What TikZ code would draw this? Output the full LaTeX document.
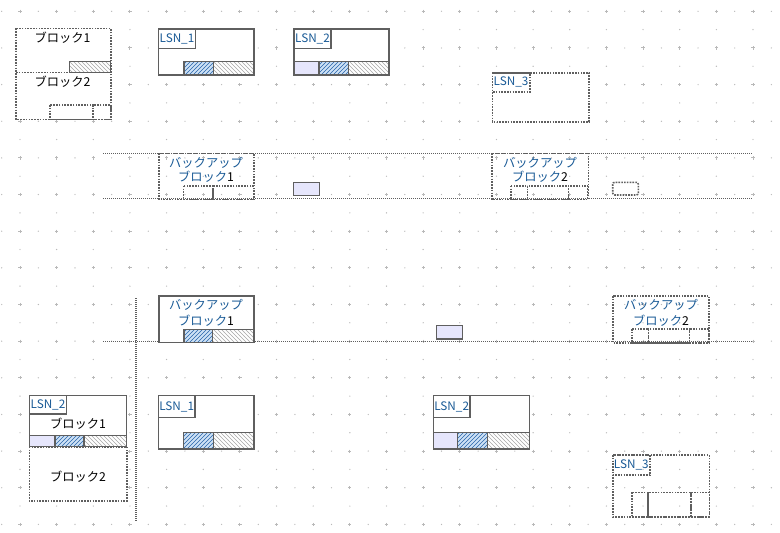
\documentclass[tikz,border=0pt]{standalone}
\usepackage{fontspec}
\setmainfont{Noto Sans CJK JP}
\usetikzlibrary{patterns}
\definecolor{txtblue}{RGB}{25,90,150}
\definecolor{edge}{RGB}{95,95,95}
\definecolor{dotc}{RGB}{95,95,95}
\definecolor{lav}{RGB}{230,230,252}
\definecolor{hbg}{RGB}{205,225,245}
\definecolor{hblue}{RGB}{40,100,170}
\definecolor{gridc}{RGB}{185,185,185}
\newcommand{\bluetxt}[1]{\textcolor{txtblue}{#1}}
\tikzset{
 solidbox/.style={draw=edge, line width=1.1pt, fill=white},
 dotbox/.style={draw=dotc, line width=1.2pt, dash pattern=on 1.2pt off 0.9pt},
 dotwhite/.style={dotbox, fill=white},
 lavbox/.style={draw=edge, line width=1.1pt, fill=lav},
 bluehatch/.style={draw=edge, line width=1.1pt, preaction={fill=hbg}, pattern=north east lines, pattern color=hblue},
 grayhatch/.style={draw=edge, line width=1.1pt, preaction={fill=white}, pattern=north west lines, pattern color=gray!70},
 longdot/.style={draw=dotc, line width=0.9pt, dash pattern=on 0.75pt off 0.75pt},
 jp/.style={font=\fontsize{9.2pt}{10pt}\selectfont, inner sep=0pt},
 lsn/.style={font=\fontsize{8.8pt}{9pt}\selectfont, text=txtblue, inner sep=0pt},
}
\begin{document}
\begin{tikzpicture}[x=0.75pt,y=-0.75pt]
\useasboundingbox[fill=white] (0,0) rectangle (780,532);
% grid
\foreach \i in {0,...,21}{
  \foreach \j in {0,...,14}{
    \draw[gridc, line width=0.75pt] ({20+36.65*\i-1.6},{11.3+36.65*\j}) -- ({20+36.65*\i+1.6},{11.3+36.65*\j})
      ({20+36.65*\i},{11.3+36.65*\j-1.6}) -- ({20+36.65*\i},{11.3+36.65*\j+1.6});
    \fill[gridc] ({1.7+36.65*\i},{11.3+36.65*\j}) circle (0.5pt);
    \fill[gridc] ({20+36.65*\i},{29.6+36.65*\j}) circle (0.5pt);
  }
}
% ---------- top-left block group
\draw[dotwhite] (16,28.3) rectangle (110.7,119.3);
\draw[dotbox] (16,72.3) -- (110.7,72.3);
\draw[grayhatch] (69.3,61.7) rectangle (110.7,72.3);
\draw[dotbox] (50,105) rectangle (92.7,119.3);
\draw[dotbox] (92.7,105) rectangle (110.7,119.3);
\node[jp] (g1) at (62.5,38) {ブロック1};
\node[jp] (g2) at (62.5,81.7) {ブロック2};
% ---------- LSN_1 top
\draw[solidbox] (158.3,29) rectangle (254,75);
\draw[bluehatch] (184,61.7) rectangle (213.3,75);
\draw[grayhatch] (213.3,61.7) rectangle (254,75);
\draw[solidbox] (158.3,29) rectangle (195.7,48.3);
\node[lsn] (l1a) at (177,38.7) {LSN\_1};
% ---------- LSN_2 top
\draw[solidbox] (294,29) rectangle (389,75);
\draw[lavbox] (294,61.7) rectangle (319,75);
\draw[bluehatch] (319,61.7) rectangle (348.3,75);
\draw[grayhatch] (348.3,61.7) rectangle (389,75);
\draw[solidbox] (294,29) rectangle (331,48.3);
\node[lsn] (l2a) at (312.5,38.7) {LSN\_2};
% ---------- LSN_3 top
\draw[dotwhite] (492.3,72.7) rectangle (589,121.7);
\draw[dotbox] (492.3,72.7) rectangle (530,91.7);
\node[lsn] (l3a) at (511,82.2) {LSN\_3};
% ---------- backup row 1
\draw[longdot] (103.3,153.3) -- (753.3,153.3);
\draw[longdot] (103.3,198.3) -- (753.3,198.3);
\draw[dotbox] (159,153.3) rectangle (254,199.3);
\node[jp] (b1a) at (206,162.7) {\bluetxt{バックアップ}};
\node[jp] (b1b) at (206,176.7) {\bluetxt{ブロック}1};
\draw[dotbox] (183.3,185.7) rectangle (212.7,199.3);
\draw[dotbox] (212.7,185.7) rectangle (253.3,199.3);
\draw[lavbox] (293.3,182.7) rectangle (319.3,195.7);
\draw[dotbox] (491.7,153.3) rectangle (588.3,199.3);
\node[jp] (b2a) at (540,162.7) {\bluetxt{バックアップ}};
\node[jp] (b2b) at (540,176.7) {\bluetxt{ブロック}2};
\draw[dotbox] (510.7,185.7) rectangle (527.3,199.3);
\draw[dotbox] (527.3,185.7) rectangle (568.3,199.3);
\draw[dotbox] (568.3,185.7) rectangle (587.3,199.3);
\draw[dotbox, rounded corners=1.5pt] (612.7,182.3) rectangle (638.3,195);
% ---------- backup row 2
\draw[longdot] (103.3,341.7) -- (753.3,341.7);
\draw[longdot] (136,298) -- (136,522);
\draw[solidbox] (159,296) rectangle (254,342.7);
\node[jp] (b3a) at (206,305) {\bluetxt{バックアップ}};
\node[jp] (b3b) at (206,320.7) {\bluetxt{ブロック}1};
\draw[bluehatch] (184,329.3) rectangle (212.7,342.7);
\draw[grayhatch] (212.7,329.3) rectangle (253.7,342.7);
\draw[lavbox] (436.7,325.7) rectangle (462.7,339);
\draw[dotbox] (612.7,296) rectangle (709,342.7);
\node[jp] (b4a) at (661,305) {\bluetxt{バックアップ}};
\node[jp] (b4b) at (661,320.7) {\bluetxt{ブロック}2};
\draw[dotbox] (631.7,329) rectangle (648.3,342.7);
\draw[dotbox] (648.3,329) rectangle (689.3,342.7);
\draw[dotbox] (689.3,329) rectangle (709,342.7);
% ---------- bottom LSN_2 combined
\draw[dotwhite] (29.3,446.7) rectangle (126.7,501);
\draw[solidbox] (29.3,395.7) rectangle (126.7,446.7);
\draw[lavbox] (29.3,435.7) rectangle (55,446.7);
\draw[bluehatch] (55,435.7) rectangle (84,446.7);
\draw[grayhatch] (84,435.7) rectangle (126.7,446.7);
\draw[solidbox] (29.3,395.7) rectangle (66.7,414);
\node[lsn] (l2c) at (48,404.9) {LSN\_2};
\node[jp] (c1) at (78,423.3) {ブロック1};
\node[jp] (c2) at (78,476.7) {ブロック2};
% ---------- bottom LSN_1
\draw[solidbox] (158.3,395.7) rectangle (254,449);
\draw[bluehatch] (183.3,432.7) rectangle (213.3,449);
\draw[grayhatch] (213.3,432.7) rectangle (254,449);
\draw[solidbox] (158.3,395.7) rectangle (195,417.3);
\node[lsn] (l1b) at (176.7,406.5) {LSN\_1};
% ---------- bottom LSN_2
\draw[solidbox] (433.3,395.7) rectangle (529.3,449);
\draw[lavbox] (433.3,432.7) rectangle (457.7,449);
\draw[bluehatch] (457.7,432.7) rectangle (487.7,449);
\draw[grayhatch] (487.7,432.7) rectangle (529.3,449);
\draw[solidbox] (433.3,395.7) rectangle (470,417.3);
\node[lsn] (l2b) at (451.7,406.5) {LSN\_2};
% ---------- bottom LSN_3
\draw[dotbox] (612.7,455) rectangle (709.3,516.7);
\draw[dotbox] (612.7,455) rectangle (650,475);
\node[lsn] (l3b) at (631.3,465) {LSN\_3};
\draw[dotbox] (631.7,492.3) rectangle (647.7,516.7);
\draw[dotbox] (647.7,492.3) rectangle (690.7,516.7);
\draw[dotbox] (690.7,492.3) rectangle (709.3,516.7);
\end{tikzpicture}
\end{document}
